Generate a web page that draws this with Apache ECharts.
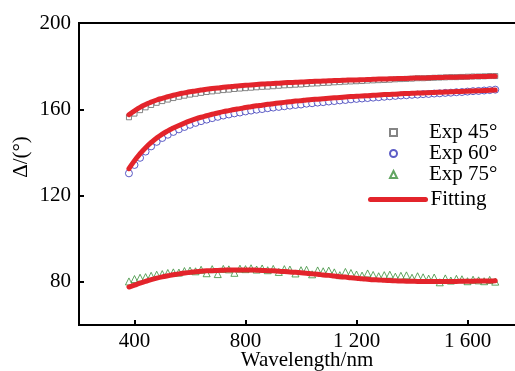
<!DOCTYPE html>
<html>
<head>
<meta charset="utf-8">
<script src="https://cdn.jsdelivr.net/npm/echarts@6/dist/echarts.min.js"></script>
<style>
  html, body { margin: 0; padding: 0; background: #fff; }
  #chart { width: 515px; height: 371px; }
</style>
</head>
<body>
<div id="chart"></div>
<script>
// wavelength (nm) of the sampled points
const wavelength = [380, 400, 420, 440, 460, 480, 500, 520, 540, 560, 580, 600, 620, 640, 660, 680, 700,
  720, 740, 760, 780, 800, 820, 840, 860, 880, 900, 920, 940, 960, 980, 1000, 1020, 1040, 1060, 1080,
  1100, 1120, 1140, 1160, 1180, 1200, 1220, 1240, 1260, 1280, 1300, 1320, 1340, 1360, 1380, 1400,
  1420, 1440, 1460, 1480, 1500, 1520, 1540, 1560, 1580, 1600, 1620, 1640, 1660, 1680, 1700];

const exp45 = [156.3, 158.0, 159.6, 160.9, 162.0, 163.0, 163.8, 164.5, 165.2, 165.8, 166.3, 166.8, 167.2,
  167.6, 168.0, 168.3, 168.6, 168.9, 169.1, 169.4, 169.6, 169.8, 170.0, 170.2, 170.4, 170.5, 170.7,
  170.9, 171.1, 171.2, 171.4, 171.5, 171.7, 171.9, 172.0, 172.2, 172.3, 172.5, 172.6, 172.8, 172.9,
  173.0, 173.1, 173.3, 173.4, 173.5, 173.6, 173.7, 173.9, 174.0, 174.1, 174.2, 174.4, 174.4, 174.5,
  174.6, 174.7, 174.8, 174.9, 174.9, 175.0, 175.1, 175.2, 175.2, 175.3, 175.4, 175.4];

const exp60 = [130.3, 134.2, 137.5, 140.4, 142.8, 144.9, 146.7, 148.2, 149.5, 150.7, 151.8, 152.8, 153.7,
  154.5, 155.2, 155.9, 156.5, 157.1, 157.6, 158.1, 158.5, 159.0, 159.4, 159.8, 160.1, 160.5, 160.8,
  161.1, 161.4, 161.7, 162.0, 162.2, 162.6, 162.8, 163.1, 163.3, 163.6, 163.8, 164.1, 164.3, 164.6,
  164.8, 165.0, 165.2, 165.4, 165.6, 165.8, 166.0, 166.2, 166.4, 166.5, 166.7, 166.8, 167.0, 167.1,
  167.3, 167.4, 167.6, 167.7, 167.9, 168.0, 168.2, 168.4, 168.5, 168.7, 168.9, 169.1];

const exp75 = [80.2, 81.3, 81.9, 82.2, 82.8, 83.3, 83.6, 84.1, 84.4, 84.3, 85.0, 85.2, 84.9, 85.6, 84.0,
  85.9, 83.6, 86.0, 85.8, 84.2, 86.1, 85.9, 86.3, 85.7, 86.2, 85.4, 86.0, 84.6, 85.9, 85.7, 83.9, 85.4,
  85.6, 83.5, 85.3, 84.9, 85.2, 84.4, 83.1, 84.6, 84.1, 83.4, 82.9, 83.9, 83.2, 82.6, 83.1, 83.3, 82.4,
  82.8, 83.0, 81.9, 82.6, 82.1, 81.5, 82.0, 79.8, 81.6, 80.6, 81.4, 81.2, 80.3, 81.0, 80.7, 80.3, 80.9, 80.1];

const fit45 = [157.5, 159.3, 160.9, 162.2, 163.3, 164.3, 165.1, 165.8, 166.5, 167.1, 167.6, 168.1, 168.5,
  168.9, 169.3, 169.6, 169.9, 170.2, 170.4, 170.7, 170.9, 171.1, 171.3, 171.5, 171.7, 171.8, 172.0,
  172.1, 172.3, 172.4, 172.5, 172.6, 172.8, 172.9, 173.0, 173.1, 173.2, 173.3, 173.4, 173.5, 173.6,
  173.6, 173.7, 173.8, 173.9, 174.0, 174.0, 174.1, 174.2, 174.3, 174.3, 174.4, 174.5, 174.5, 174.6,
  174.7, 174.7, 174.8, 174.9, 174.9, 175.0, 175.0, 175.1, 175.2, 175.2, 175.3, 175.3];

const fit60 = [132.5, 136.2, 139.4, 142.2, 144.6, 146.7, 148.5, 150.0, 151.3, 152.5, 153.6, 154.6, 155.5,
  156.3, 157.0, 157.7, 158.3, 158.9, 159.4, 159.9, 160.3, 160.8, 161.2, 161.6, 161.9, 162.3, 162.6,
  162.9, 163.2, 163.5, 163.8, 164.0, 164.3, 164.5, 164.7, 164.9, 165.1, 165.3, 165.5, 165.7, 165.9,
  166.0, 166.2, 166.3, 166.5, 166.6, 166.8, 166.9, 167.0, 167.2, 167.3, 167.4, 167.5, 167.6, 167.7,
  167.8, 167.9, 168.0, 168.1, 168.2, 168.3, 168.4, 168.5, 168.6, 168.7, 168.8, 168.9];

const fit75 = [77.6, 78.5, 79.4, 80.2, 81.0, 81.7, 82.3, 82.8, 83.3, 83.7, 84.1, 84.4, 84.7, 84.9, 85.1,
  85.2, 85.3, 85.4, 85.5, 85.5, 85.5, 85.5, 85.5, 85.4, 85.3, 85.2, 85.1, 84.9, 84.8, 84.6, 84.4, 84.2,
  84.0, 83.7, 83.5, 83.2, 83.0, 82.7, 82.4, 82.2, 81.9, 81.7, 81.4, 81.2, 81.0, 80.9, 80.7, 80.6, 80.5,
  80.4, 80.3, 80.3, 80.2, 80.2, 80.2, 80.2, 80.2, 80.2, 80.2, 80.2, 80.3, 80.3, 80.3, 80.4, 80.4, 80.4, 80.5];

const xTicks = [400, 800, 1200, 1600];
const yTicks = [80, 120, 160, 200];

const pairs = (ys) => wavelength.map((x, i) => [x, ys[i]]);

const font = "'Liberation Serif', 'Times New Roman', serif";
const red = '#e3242b';
const legendText = { fontFamily: font, fontSize: 21, color: '#000', lineHeight: 20 };

const expSeries = (name, data, symbol, size, color) => ({
  name: name,
  type: 'scatter',
  data: pairs(data),
  symbol: symbol,
  symbolSize: size,
  itemStyle: { color: '#fff', borderColor: color, borderWidth: 1 },
  z: 2
});

const fitSeries = (data) => ({
  name: 'Fitting',
  type: 'line',
  data: pairs(data),
  smooth: true,
  showSymbol: false,
  symbol: 'none',
  lineStyle: { color: red, width: 5, cap: 'round' },
  itemStyle: { color: red },
  z: 3
});

const chart = echarts.init(document.getElementById('chart'), null, { renderer: 'canvas' });

chart.setOption({
  animation: false,
  backgroundColor: '#fff',
  grid: {
    left: 79, top: 23, right: -8, bottom: 46,
    outerBoundsMode: 'none',
    show: true, borderColor: '#000', borderWidth: 2
  },
  legend: [
    {
      data: ['Exp 45°', 'Exp 60°', 'Exp 75°'],
      orient: 'vertical',
      left: 389, top: 122, padding: 0,
      itemWidth: 7, itemHeight: 7, itemGap: 0,
      textStyle: Object.assign({ padding: [0, 0, 0, 27] }, legendText)
    },
    {
      data: ['Fitting'],
      orient: 'vertical',
      left: 368, top: 189, padding: 0,
      itemWidth: 55, itemHeight: 6,
      lineStyle: { width: 5, cap: 'round' },
      textStyle: legendText
    }
  ],
  xAxis: {
    type: 'value',
    min: 200, max: 1800,
    name: 'Wavelength/nm',
    nameLocation: 'middle',
    nameGap: 25,
    nameMoveOverlap: false,
    nameTextStyle: { fontFamily: font, fontSize: 21, color: '#000', padding: [0, 0, 0, 12] },
    axisLine: { lineStyle: { color: '#000', width: 2 } },
    axisTick: { inside: true, length: 5, customValues: xTicks, lineStyle: { color: '#000', width: 2 } },
    axisLabel: {
      customValues: xTicks, margin: 6,
      fontFamily: font, fontSize: 21, color: '#000',
      formatter: (v) => v >= 1000 ? Math.floor(v / 1000) + ' ' + String(v % 1000).padStart(3, '0') : String(v)
    },
    splitLine: { show: false }
  },
  yAxis: {
    type: 'value',
    min: 60, max: 200,
    name: 'Δ/(°)',
    nameLocation: 'middle',
    nameGap: 47,
    nameMoveOverlap: false,
    nameTextStyle: { fontFamily: font, fontSize: 21, color: '#000', padding: [0, 0, 0, 34] },
    axisLine: { lineStyle: { color: '#000', width: 2 } },
    axisTick: { inside: true, length: 5, customValues: yTicks, lineStyle: { color: '#000', width: 2 } },
    axisLabel: { customValues: yTicks, margin: 8, fontFamily: font, fontSize: 21, color: '#000' },
    splitLine: { show: false }
  },
  series: [
    expSeries('Exp 45°', exp45, 'rect', 5, '#666'),
    expSeries('Exp 60°', exp60, 'circle', 7, '#3434b8'),
    expSeries('Exp 75°', exp75, 'triangle', 7, '#3a8f3a'),
    fitSeries(fit45),
    fitSeries(fit60),
    fitSeries(fit75)
  ]
});
</script>
</body>
</html>
